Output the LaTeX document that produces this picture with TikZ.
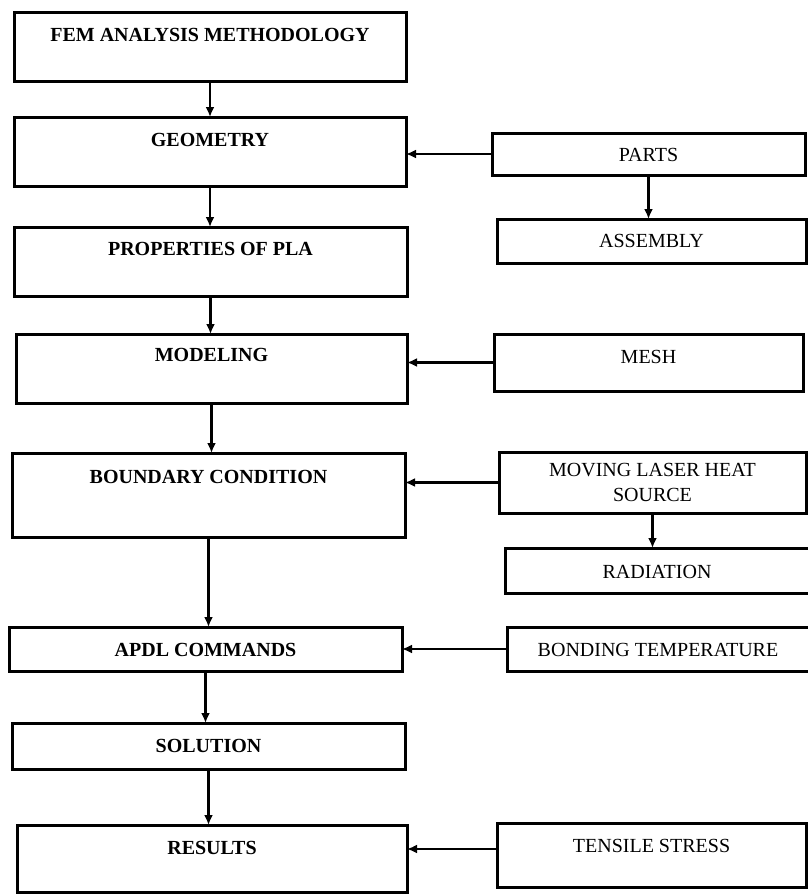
\documentclass[tikz,border=0pt]{standalone}
\usepackage{fontspec}
\setmainfont{Liberation Serif}
\usetikzlibrary{arrows.meta}

\begin{document}
\begin{tikzpicture}[x=1pt,y=-1pt]
                        \tikzstyle{box}=[draw, line width=3pt, inner sep=0pt, outer sep=0pt, anchor=north, font=\fontsize{20}{25}\selectfont]
                        \tikzstyle{stage}=[box, font=\fontsize{20}{25}\selectfont\bfseries]
                        \tikzstyle{flow}=[-{Latex[length=10pt,width=9pt]}, line width=2.4pt]
                        \useasboundingbox (0,0) rectangle (807,894);
                        % main column
                        \node[stage, minimum width=392pt, text height=29pt, text depth=40pt] (fem) at (210,12) {FEM ANALYSIS METHODOLOGY};
                        \node[stage, minimum width=392pt, text height=29pt, text depth=40pt] (geom) at (210,117) {GEOMETRY};
                        \node[stage, minimum width=393pt, text height=28pt, text depth=41pt] (prop) at (210.5,227) {PROPERTIES OF PLA};
                        \node[stage, minimum width=391pt, text height=27pt, text depth=42pt] (model) at (211.5,334) {MODELING};
                        \node[stage, minimum width=393pt, text height=30pt, text depth=54pt] (bound) at (208.5,453) {BOUNDARY CONDITION};
                        \node[stage, minimum width=393pt, text height=29pt, text depth=15pt] (apdl) at (205.5,627) {APDL COMMANDS};
                        \node[stage, minimum width=393pt, text height=29pt, text depth=17pt] (sol) at (208.5,723) {SOLUTION};
                        \node[stage, minimum width=390pt, text height=29pt, text depth=38pt] (res) at (212,825) {RESULTS};
                        % side inputs
                        \node[box, minimum width=313pt, text height=28pt, text depth=14pt] (parts) at (648.5,133) {PARTS};
                        \node[box, minimum width=309pt, text height=28pt, text depth=16pt] (assem) at (651.5,219) {ASSEMBLY};
                        \node[box, minimum width=309pt, text height=29pt, text depth=28pt] (mesh) at (648.5,334) {MESH};
                        \node[box, minimum width=307pt, minimum height=61pt, align=center] (laser) at (652.5,452) {MOVING LASER HEAT\\SOURCE};
                        \node[box, minimum width=304pt, text height=30pt, text depth=15pt] (rad) at (657,548) {RADIATION};
                        \node[box, minimum width=302pt, text height=29pt, text depth=15pt] (bond) at (658,627) {BONDING TEMPERATURE};
                        \node[box, minimum width=309pt, text height=29pt, text depth=35pt] (tens) at (651.5,823) {TENSILE STRESS};
                        % arrows down the main column
                        \draw[flow] (fem.south) -- (fem.south |- geom.north);
                        \draw[flow] (geom.south) -- (geom.south |- prop.north);
                        \draw[flow] (prop.south) -- (prop.south |- model.north);
                        \draw[flow] (model.south) -- (model.south |- bound.north);
                        \draw[flow] (bound.south) -- (bound.south |- apdl.north);
                        \draw[flow] (apdl.south) -- (apdl.south |- sol.north);
                        \draw[flow] (sol.south) -- (sol.south |- res.north);
                        % arrows from the side
                        \draw[flow] (parts.west) -- (parts.west -| geom.east);
                        \draw[flow] (parts.south) -- (parts.south |- assem.north);
                        \draw[flow] (mesh.west) -- (mesh.west -| model.east);
                        \draw[flow] (laser.west) -- (laser.west -| bound.east);
                        \draw[flow] (laser.south) -- (laser.south |- rad.north);
                        \draw[flow] (bond.west) -- (bond.west -| apdl.east);
                        \draw[flow] ([yshift=6pt]tens.west) -- ([yshift=6pt]tens.west -| res.east);
\end{tikzpicture}
\end{document}
